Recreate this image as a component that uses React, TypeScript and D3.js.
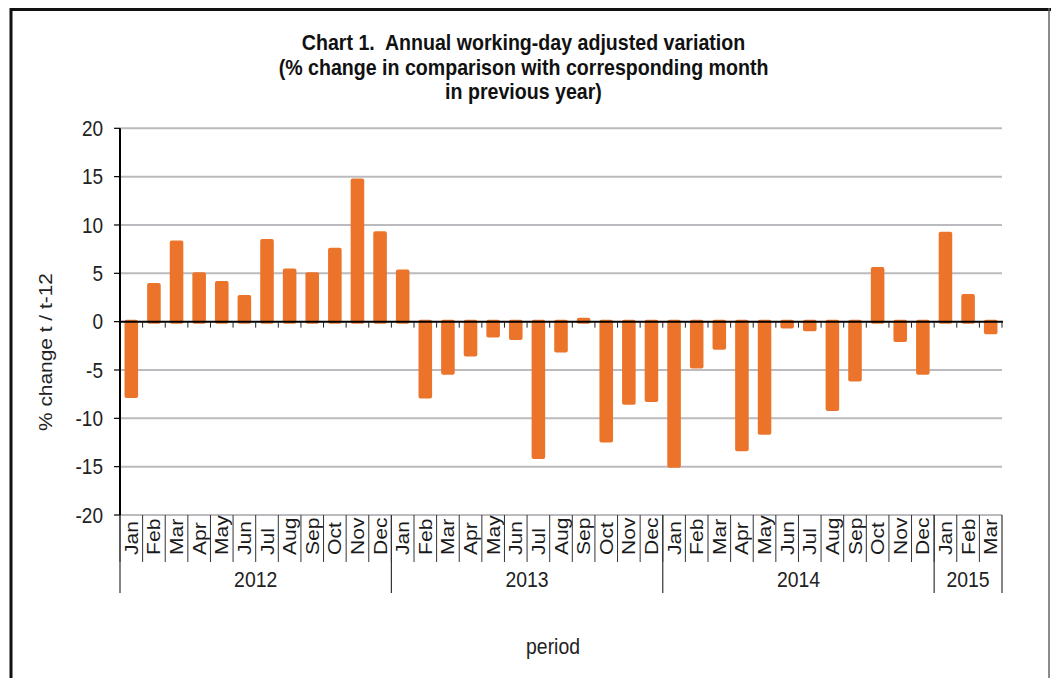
import React from "react";
import * as d3 from "d3";

const titleLines = [
  "Chart 1.  Annual working-day adjusted variation",
  "(% change in comparison with corresponding month",
  "in previous year)",
];
const yAxisTitle = "% change t / t-12";
const xAxisTitle = "period";
const monthNames = ["Jan", "Feb", "Mar", "Apr", "May", "Jun", "Jul", "Aug", "Sep", "Oct", "Nov", "Dec"];
const years = ["2012", "2013", "2014", "2015"];
const monthsPerYear = [12, 12, 12, 3];
const values2012 = [-7.9, 4.0, 8.4, 5.1, 4.2, 2.75, 8.55, 5.5, 5.1, 7.65, 14.8, 9.35];
const values2013 = [5.4, -7.95, -5.5, -3.6, -1.65, -1.9, -14.2, -3.2, 0.4, -12.5, -8.6, -8.3];
const values2014 = [-15.1, -4.85, -2.9, -13.4, -11.7, -0.7, -1.0, -9.25, -6.2, 5.65, -2.1, -5.5];
const values2015 = [9.3, 2.85, -1.3];
const yTicks = [-20, -15, -10, -5, 0, 5, 10, 15, 20];

const W = 1051;
const H = 678;
const FONT = "'Liberation Sans', Arial, Helvetica, sans-serif";
const ORANGE = "#EB742A";
const GRID = "#BBBBBF";

export default function App() {
  const yearValues = [values2012, values2013, values2014, values2015];
  const data: { label: string; value: number; year: string; idx: number }[] = [];
  yearValues.forEach((vals, yi) => {
    vals.slice(0, monthsPerYear[yi]).forEach((v, mi) => {
      data.push({ label: monthNames[mi], value: v, year: years[yi], idx: data.length });
    });
  });

  const left = 120;
  const right = 1002;
  const x = d3
    .scaleBand<number>()
    .domain(data.map((d) => d.idx))
    .range([left, right])
    .paddingInner(0.4)
    .paddingOuter(0.2);
  const step = x.step();
  const y = d3.scaleLinear().domain([-20, 20]).range([515, 128.3]);
  const y0 = y(0);
  const yBottom = y(-20);
  const yTop = y(20);
  const boundary = (i: number) => left + i * step;

  const groups: { year: string; start: number; end: number }[] = [];
  let acc = 0;
  years.forEach((yr, i) => {
    groups.push({ year: yr, start: acc, end: acc + monthsPerYear[i] });
    acc += monthsPerYear[i];
  });
  const yearBoundaries = [0, ...groups.map((g) => g.end)];

  const sY = 1.12;

  return (
    <svg
      width={W}
      height={H}
      viewBox={`0 0 ${W} ${H}`}
      style={{ position: "absolute", left: 0, top: 0, display: "block", background: "#fff" }}
      fontFamily={FONT}
    >
      <rect x={0} y={0} width={W} height={H} fill="#fff" />
      {/* frame */}
      <line x1={10} x2={W} y1={9.5} y2={9.5} stroke="#111" strokeWidth={3} />
      <line x1={11} x2={11} y1={8} y2={H} stroke="#111" strokeWidth={3} />
      <line x1={1049} x2={1049} y1={8} y2={H} stroke="#666" strokeWidth={1.5} />

      {/* title */}
      {titleLines.map((t, i) => (
        <text
          key={i}
          transform={`translate(523.5,${50 + i * 24.5}) scale(1,${sY})`}
          textAnchor="middle"
          fontWeight="bold"
          fontSize={19.6}
          fill="#111"
          style={{ whiteSpace: "pre" }}
        >
          {t}
        </text>
      ))}

      {/* gridlines */}
      {yTicks.filter((t) => t !== 0).map((t) => (
        <line key={t} x1={left} x2={right} y1={y(t)} y2={y(t)} stroke={GRID} strokeWidth={2} />
      ))}

      {/* bars */}
      {data.map((d) => {
        const yv = y(d.value);
        const top = Math.min(yv, y0) - (d.value < 0 ? 2 : 0);
        const bottom = Math.max(yv, y0) + (d.value > 0 ? 2 : 0);
        return (
          <rect
            key={d.idx}
            x={x(d.idx)}
            y={top}
            width={x.bandwidth()}
            height={bottom - top}
            rx={2}
            fill={ORANGE}
          />
        );
      })}

      {/* zero axis */}
      <line x1={left} x2={right + 1} y1={y0} y2={y0} stroke="#000" strokeWidth={2} />
      {data.map((d) => (
        <line
          key={"t" + d.idx}
          x1={boundary(d.idx + 1)}
          x2={boundary(d.idx + 1)}
          y1={y0}
          y2={y0 + 6}
          stroke="#222"
          strokeWidth={1}
        />
      ))}

      {/* y axis */}
      <line x1={left} x2={left} y1={yTop} y2={yBottom} stroke="#000" strokeWidth={2} />
      {yTicks.map((t) => (
        <g key={"yt" + t}>
          <line x1={left - 6} x2={left} y1={y(t)} y2={y(t)} stroke="#000" strokeWidth={1.2} />
          <text
            transform={`translate(103,${y(t) + 7.6}) scale(1,${sY})`}
            textAnchor="end"
            fontSize={19}
            fill="#222"
          >
            {t}
          </text>
        </g>
      ))}

      {/* y axis title */}
      <text
        transform={`translate(52,352) rotate(-90) scale(1.1,1)`}
        textAnchor="middle"
        fontSize={19}
        fill="#222"
      >
        {yAxisTitle}
      </text>

      {/* category dividers */}
      {data.map((d) => (
        <line
          key={"cd" + d.idx}
          x1={boundary(d.idx)}
          x2={boundary(d.idx)}
          y1={yBottom}
          y2={562}
          stroke="#333"
          strokeWidth={1}
        />
      ))}
      {yearBoundaries.map((b) => (
        <line key={"yb" + b} x1={boundary(b)} x2={boundary(b)} y1={yBottom} y2={593} stroke="#333" strokeWidth={1.2} />
      ))}

      {/* month labels */}
      {data.map((d) => {
        const cx = (x(d.idx) as number) + x.bandwidth() / 2;
        return (
          <text
            key={"ml" + d.idx}
            transform={`translate(${cx + 6.5},555) rotate(-90) scale(1.1,1)`}
            textAnchor="start"
            fontSize={19.2}
            fill="#1a1a1a"
          >
            {d.label}
          </text>
        );
      })}

      {/* year labels */}
      {groups.map((g) => (
        <text
          key={g.year}
          transform={`translate(${(boundary(g.start) + boundary(g.end)) / 2},587) scale(1,${sY + 0.04})`}
          textAnchor="middle"
          fontSize={19.4}
          fill="#222"
        >
          {g.year}
        </text>
      ))}

      {/* x axis title */}
      <text
        transform={`translate(553,654) scale(1,${sY})`}
        textAnchor="middle"
        fontSize={19.4}
        fill="#222"
      >
        {xAxisTitle}
      </text>
    </svg>
  );
}
